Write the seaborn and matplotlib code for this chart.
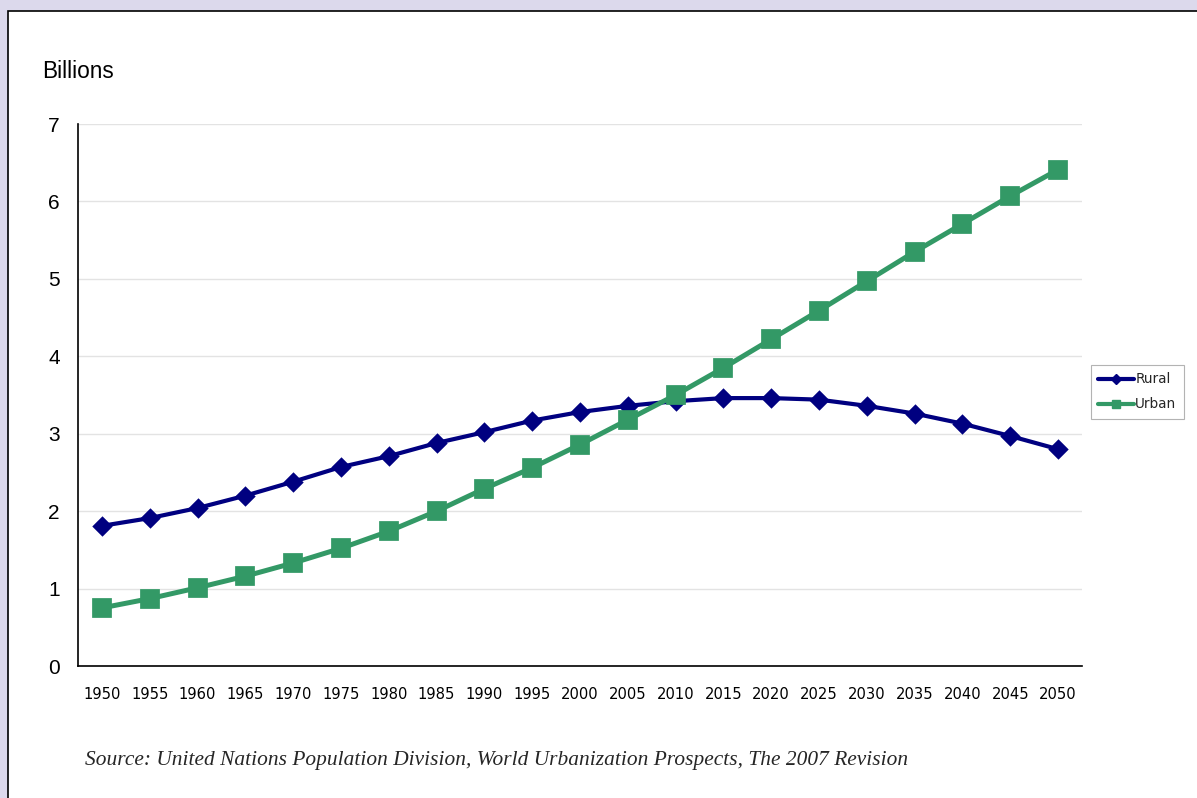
import pandas as pd
import seaborn as sns
import matplotlib.pyplot as plt
from matplotlib.patches import Rectangle
from matplotlib.lines import Line2D

# Données (milliards)
annees = ['1950', '1955', '1960', '1965', '1970', '1975', '1980', '1985', '1990', '1995', '2000',
          '2005', '2010', '2015', '2020', '2025', '2030', '2035', '2040', '2045', '2050']
rural = [1.81, 1.91, 2.04, 2.20, 2.38, 2.57, 2.71, 2.88, 3.02, 3.17, 3.28,
         3.36, 3.42, 3.46, 3.46, 3.44, 3.36, 3.26, 3.13, 2.97, 2.80]
urban = [0.75, 0.87, 1.01, 1.16, 1.33, 1.52, 1.74, 2.00, 2.29, 2.56, 2.86,
         3.18, 3.50, 3.85, 4.22, 4.59, 4.97, 5.35, 5.71, 6.07, 6.41]
series = ['Rural', 'Urban']
couleurs = {'Rural': '#000080', 'Urban': '#339966'}
marqueurs = {'Rural': 'D', 'Urban': 's'}

df = pd.DataFrame({
    'annee': annees * 2,
    'valeur': rural + urban,
    'serie': ['Rural'] * len(annees) + ['Urban'] * len(annees),
})

sns.set_style('white')
plt.rcParams['font.family'] = ['Liberation Sans', 'DejaVu Sans']

fig = plt.figure(figsize=(11.97, 7.98), dpi=100, facecolor='#DCD9EC')
# panneau blanc avec bord noir
fig.patches.append(Rectangle((8 / 1197, -0.1), 1.2, 1 - 11 / 798 + 0.1, transform=fig.transFigure,
                             facecolor='white', edgecolor='black', linewidth=1.2, zorder=-5))
ax = fig.add_axes([78 / 1197, 1 - 666 / 798, 1004 / 1197, 542 / 798])
ax.set_facecolor('none')

for nom, ms, lw in [('Rural', 8.5, 3.0), ('Urban', 11, 3.6)]:
    sub = df[df['serie'] == nom]
    sns.pointplot(data=sub, x='annee', y='valeur', color=couleurs[nom], marker=marqueurs[nom],
                  markersize=ms, linewidth=lw, ax=ax, errorbar=None)

ax.set_xlim(-0.5, len(annees) - 0.5)
ax.set_ylim(0, 7)
ax.set_yticks(range(0, 8))
ax.yaxis.grid(True, color='#E3E3E3', linewidth=1)
ax.set_axisbelow(True)
for s in ['top', 'right']:
    ax.spines[s].set_visible(False)
for s in ['left', 'bottom']:
    ax.spines[s].set_color('black')
    ax.spines[s].set_linewidth(1.2)
ax.tick_params(axis='y', length=0, pad=13, labelsize=15, labelcolor='black')
ax.tick_params(axis='x', length=0, pad=15, labelcolor='black')
for lab in ax.get_xticklabels():
    lab.set_fontfamily('DejaVu Sans')
    lab.set_fontsize(10.6)
ax.set_xlabel('')
ax.set_ylabel('')

fig.text(42 / 1197, 1 - 72 / 798, 'Billions', fontsize=16.3, va='center', ha='left', color='black')

handles = [Line2D([], [], color=couleurs[n], marker=marqueurs[n], markersize=5.5, linewidth=3)
           for n in series]
leg = fig.legend(handles, series, loc='upper left', bbox_to_anchor=(1091 / 1197, 1 - 365 / 798),
                 borderaxespad=0, fancybox=False, edgecolor='#A0A0A0',
                 handlelength=2.6, handletextpad=0.1, labelspacing=0.8, borderpad=0.55,
                 prop={'family': 'DejaVu Sans', 'size': 9.8})
leg.get_frame().set_linewidth(0.8)

fig.text(85 / 1197, 1 - 760 / 798,
         'Source: United Nations Population Division, World Urbanization Prospects, The 2007 Revision',
         fontsize=15.4, style='italic', family='Liberation Serif', va='center', ha='left')

fig.savefig('out.png', dpi=100, facecolor=fig.get_facecolor())
